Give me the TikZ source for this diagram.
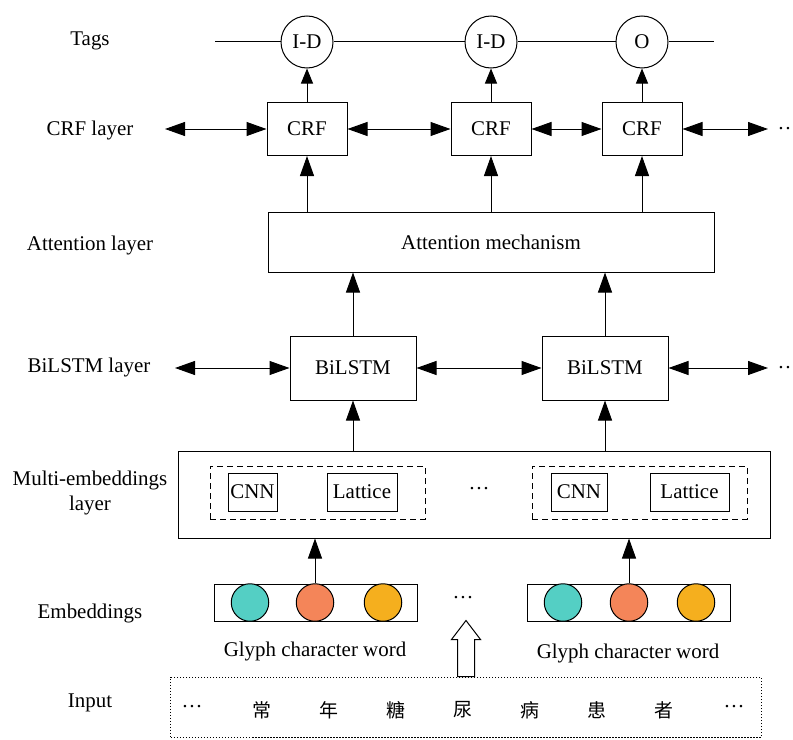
\documentclass[tikz,border=0pt]{standalone}
\usepackage{fontspec}
\setmainfont{Liberation Serif}
\newfontfamily\cjk{Noto Sans CJK SC}
\usetikzlibrary{arrows.meta}

\definecolor{glyphc}{RGB}{84,207,196}
\definecolor{charc}{RGB}{244,133,89}
\definecolor{wordc}{RGB}{245,175,30}

\begin{document}
\begin{tikzpicture}[x=1bp, y=-1bp, line width=1bp, font=\fontsize{21}{25}\selectfont,
		box/.style={draw, inner sep=0pt},
		tag/.style={draw, circle, minimum size=52bp, inner sep=0pt},
		ball/.style={draw, circle, minimum size=37.5bp, inner sep=0pt},
		grp/.style={draw, dash pattern=on 6bp off 4bp, inner sep=0pt, minimum width=215bp, minimum height=53bp},
		arr/.style={-{Triangle[length=20bp,width=14bp]}},
		sarr/.style={-{Triangle[length=15bp,width=12bp]}},
		darr/.style={{Triangle[length=20bp,width=14bp]}-{Triangle[length=20bp,width=14bp]}}]
		\useasboundingbox (0,0) rectangle (793,740);

		% layer names
		\node (lTags) at (90,41) {Tags};
		\node (lCrf) at (90,130) {CRF layer};
		\node (lAtt) at (90,245) {Attention layer};
		\node (lLstm) at (89,367) {BiLSTM layer};
		\node[align=center, font=\fontsize{21}{26}\selectfont] (lMulti) at (90,493) {Multi-embeddings\\layer};
		\node (lEmb) at (90,613) {Embeddings};
		\node (lInp) at (90,703) {Input};

		% tags
		\node[tag] (t1) at (307,42) {I-D};
		\node[tag] (t2) at (491,42) {I-D};
		\node[tag] (t3) at (642,42) {O};
		\coordinate (tl) at (215,42);
		\coordinate (tr) at (714,42);
		\draw (tl) -- (t1) -- (t2) -- (t3) -- (tr);

		% crf
		\node[box, minimum width=80bp, minimum height=53bp] (crf1) at (307,129) {CRF};
		\node[box, minimum width=80bp, minimum height=53bp] (crf2) at (491,129) {CRF};
		\node[box, minimum width=80bp, minimum height=53bp] (crf3) at (642,129) {CRF};
		\coordinate (cl) at (165,129);
		\coordinate (cr) at (768,129);
		\draw[darr] (cl) -- (crf1);
		\draw[darr] (crf1) -- (crf2);
		\draw[darr] (crf2) -- (crf3);
		\draw[darr] (crf3) -- (cr);
		\node[anchor=west, inner sep=0pt] (cdots) at (777,129) {…};
		\draw[sarr] (crf1) -- (t1);
		\draw[sarr] (crf2) -- (t2);
		\draw[sarr] (crf3) -- (t3);

		% attention
		\node[box, minimum width=446bp, minimum height=60bp] (att) at (491,242) {Attention mechanism};
		\draw[arr] (att.north -| crf1) -- (crf1.south);
		\draw[arr] (att.north -| crf2) -- (crf2.south);
		\draw[arr] (att.north -| crf3) -- (crf3.south);

		% bilstm
		\node[box, minimum width=126bp, minimum height=64bp] (lstm1) at (353,368) {BiLSTM};
		\node[box, minimum width=126bp, minimum height=64bp] (lstm2) at (605,368) {BiLSTM};
		\coordinate (ll) at (175,368);
		\coordinate (lr) at (768,368);
		\draw[darr] (ll) -- (lstm1);
		\draw[darr] (lstm1) -- (lstm2);
		\draw[darr] (lstm2) -- (lr);
		\node[anchor=west, inner sep=0pt] (ldots) at (777,368) {…};
		\draw[arr] (lstm1.north) -- (lstm1.north |- att.south);
		\draw[arr] (lstm2.north) -- (lstm2.north |- att.south);

		% multi-embeddings
		\node[box, minimum width=591bp, minimum height=87bp] (multi) at (474.5,494.5) {};
		\node[grp] (grp1) at (317.5,492.5) {};
		\node[grp] (grp2) at (639.5,492.5) {};
		\node[box, minimum width=49bp, minimum height=38bp] (cnn1) at (252.5,492) {CNN};
		\node[box, minimum width=70bp, minimum height=38bp] (lat1) at (362,492) {Lattice};
		\node[box, minimum width=56bp, minimum height=38bp] (cnn2) at (579,492) {CNN};
		\node[box, minimum width=79bp, minimum height=38bp] (lat2) at (689.5,492) {Lattice};
		\node (mdots) at (479,489) {…};
		\draw[arr] (multi.north -| lstm1) -- (lstm1.south);
		\draw[arr] (multi.north -| lstm2) -- (lstm2.south);

		% embeddings
		\node[box, minimum width=203bp, minimum height=37bp] (emb1) at (315.5,602.5) {};
		\node[box, minimum width=203bp, minimum height=37bp] (emb2) at (628.5,602.5) {};
		\foreach \cx/\col [count=\i] in {250/glyphc, 315/charc, 383/wordc} {
			\node[ball, fill=\col] (ea\i) at (\cx,602.5) {};
		}
		\foreach \cx/\col [count=\i] in {563/glyphc, 629/charc, 696/wordc} {
			\node[ball, fill=\col] (eb\i) at (\cx,602.5) {};
		}
		\draw[arr] (ea2.north) -- (ea2.north |- multi.south);
		\draw[arr] (eb2.north) -- (eb2.north |- multi.south);
		\node (edots) at (463,598) {…};
		\node (g1) at (315,651) {Glyph character word};
		\node (g2) at (628,653) {Glyph character word};

		% input
		\node[draw, dash pattern=on 1.5bp off 1.5bp, minimum width=590bp, minimum height=60bp] (inp) at (466,707) {};
		\node (idotsl) at (192,707) {…};
		\node (idotsr) at (734,707) {…};
		\foreach \ch [count=\i] in {常,年,糖,尿,病,患,者} {
			\node[font=\cjk\fontsize{19}{22}\selectfont] (c\i) at ({262+67*(\i-1)},710) {\ch};
		}
		\draw[fill=white] (inp.north) ++(-8.5,0) -- ++(0,-37) -- ++(-6,0) -- ++(14.5,-19) -- ++(14.5,19) -- ++(-6,0) -- ++(0,37) -- cycle;
\end{tikzpicture}
\end{document}
